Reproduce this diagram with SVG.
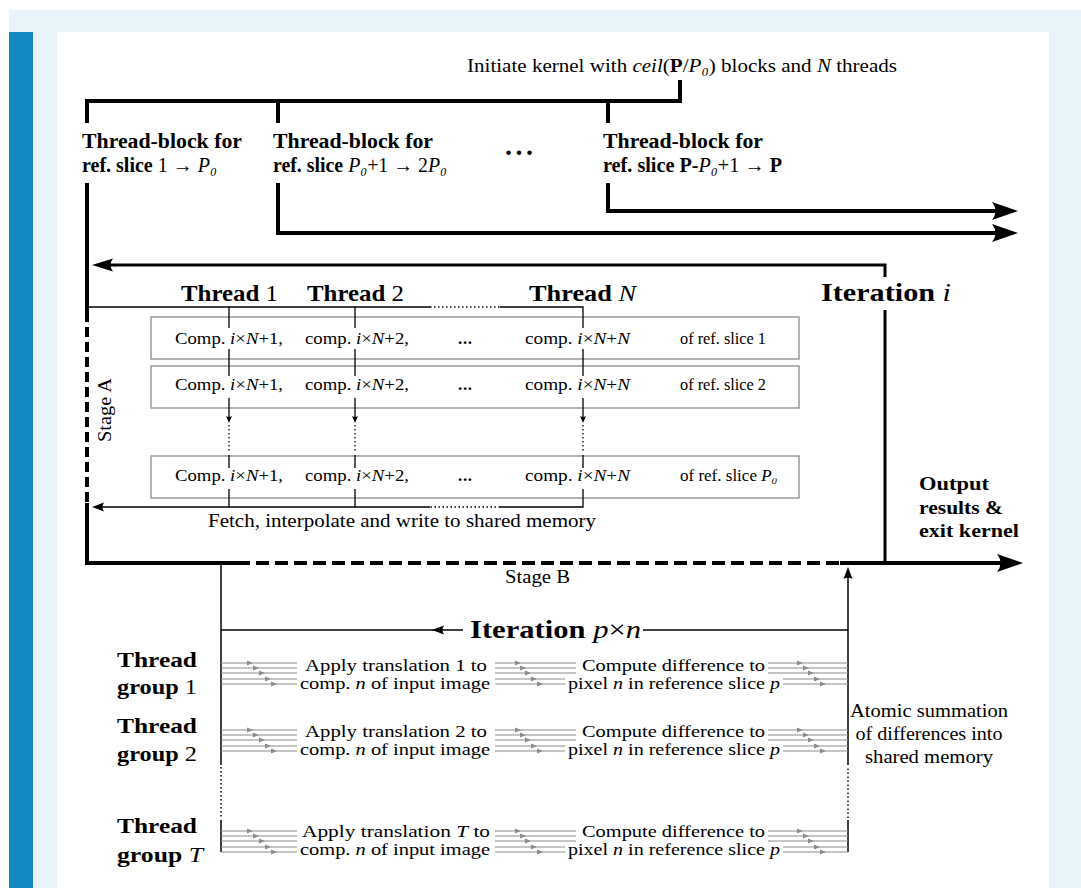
<svg xmlns="http://www.w3.org/2000/svg" xmlns:xlink="http://www.w3.org/1999/xlink" width="1081" height="888" viewBox="0 0 1081 888">
<style>
.t{font-family:"Liberation Serif","DejaVu Serif","Times New Roman",serif;fill:#000}
.b{font-weight:bold}
.i{font-style:italic;font-weight:normal}
.n{font-weight:normal}
.mb{font-weight:bold;font-style:normal}
.k{stroke:#000;fill:none;stroke-width:4;stroke-linejoin:miter}
.m3{stroke:#000;fill:none;stroke-width:3}
.th{stroke:#000;fill:none;stroke-width:1.3}
.sb{stroke:#000;fill:none;stroke-width:1.5}
.dot{stroke-dasharray:1.5 2.5}
.g{stroke:#8c8c8c;stroke-width:1.2;fill:none}
.box{fill:#fff;stroke:#9a9a9a;stroke-width:1.5}
</style>
<defs>
<marker id="aBig" viewBox="0 0 28 20" refX="16" refY="10" markerWidth="28" markerHeight="20" markerUnits="userSpaceOnUse" orient="auto"><path d="M26,10 L0,1 Q7,10 0,19 Z" fill="#000"/></marker>
<marker id="aMed" viewBox="0 0 22 14" refX="11" refY="7" markerWidth="22" markerHeight="14" markerUnits="userSpaceOnUse" orient="auto"><path d="M21,7 L0,0.5 Q5,7 0,13.5 Z" fill="#000"/></marker>
<marker id="aSm" viewBox="0 0 14 10" refX="6" refY="5" markerWidth="14" markerHeight="10" markerUnits="userSpaceOnUse" orient="auto"><path d="M12,5 L0,0.5 Q3,5 0,9.5 Z" fill="#000"/></marker>
<marker id="aTiny" viewBox="0 0 8 7" refX="3" refY="3.5" markerWidth="8" markerHeight="7" markerUnits="userSpaceOnUse" orient="auto"><path d="M7,3.5 L0,0.5 Q2,3.5 0,6.5 Z" fill="#000"/></marker>
<path id="ga" d="M0,0 L-6,-2.5 L-6,2.5 Z" fill="#8c8c8c"/>
</defs>

<g id="page">
<rect width="1081" height="888" fill="#fff"/>
<rect x="9" y="10" width="1072" height="878" fill="#e8f3fa"/>
<rect x="9" y="32" width="24" height="856" fill="#1389c1"/>
<rect x="57" y="32" width="992" height="856" fill="#fff"/>
</g>

<g id="stageA-boxes">
<rect class="box" x="151" y="317" width="648" height="42"/>
<rect class="box" x="151" y="366" width="648" height="42"/>
<rect class="box" x="151" y="456" width="648" height="42"/>
</g>

<g id="connectors">
<path class="k" d="M680,80 V101 H87 V123"/>
<path class="k" d="M278,101 V123"/>
<path class="k" d="M608,101 V123"/>
<path class="k" d="M87,183 V312"/>
<path class="k" d="M87,312 V503" stroke-dasharray="10 5"/>
<path class="k" d="M87,503 V563 H237"/>
<path class="k" d="M237,563 H840" stroke-dasharray="13 6"/>
<path class="k" d="M840,563 H1013" marker-end="url(#aBig)"/>
<path class="k" d="M278,183 V233 H1008" marker-end="url(#aBig)"/>
<path class="k" d="M608,183 V211 H1008" marker-end="url(#aBig)"/>

<path class="m3" d="M885,277 V265 H102" marker-end="url(#aMed)"/>
<path class="m3" d="M885,310 V563"/>

<path class="th" d="M87,307 H430"/>
<path class="th dot" d="M430,307 H500"/>
<path class="th" d="M500,307 H583 V328"/>
<path class="th" d="M229,307 V328 M355,307 V328"/>
<path class="th" d="M229,349 V376 M355,349 V376 M583,349 V376"/>
<path class="th" d="M229,398 V419" marker-end="url(#aTiny)"/>
<path class="th" d="M355,398 V419" marker-end="url(#aTiny)"/>
<path class="th" d="M583,398 V419" marker-end="url(#aTiny)"/>
<path class="th dot" d="M229,425 V453 M355,425 V453 M583,425 V453"/>
<path class="th" d="M229,455 V468 M355,455 V468 M583,455 V468"/>
<path class="th" d="M229,489 V507 M355,489 V507"/>
<path class="th" d="M583,489 V507 H500"/>
<path class="th dot" d="M500,507 H430"/>
<path class="th" d="M430,507 H98" marker-end="url(#aSm)"/>

<path class="sb" d="M221,565 V765"/>
<path class="sb dot" d="M221,767 V818"/>
<path class="sb" d="M221,820 V852"/>
<path class="sb" d="M221,630 H438"/>
<path class="sb" d="M463,630 H438" marker-end="url(#aSm)"/>
<path class="sb" d="M643,630 H848"/>
<path class="sb" d="M848,852 V820"/>
<path class="sb dot" d="M848,818 V767"/>
<path class="sb" d="M848,765 V573" marker-end="url(#aSm)"/>

<g id="bundles">
<path class="g" d="M221,663 H297 M221,668 H297 M221,673 H297 M221,679 H297 M221,684 H297 M495,663 H576 M495,668 H576 M495,673 H576 M495,679 H565 M495,684 H565 M768,663 H848 M768,668 H848 M768,673 H848 M783,679 H848 M783,684 H848"/>
<path class="g" d="M221,730 H297 M221,735 H297 M221,740 H297 M221,746 H297 M221,751 H297 M495,730 H576 M495,735 H576 M495,740 H576 M495,746 H565 M495,751 H565 M768,730 H848 M768,735 H848 M768,740 H848 M783,746 H848 M783,751 H848"/>
<path class="g" d="M221,831 H297 M221,836 H297 M221,841 H297 M221,847 H297 M221,852 H297 M495,831 H576 M495,836 H576 M495,841 H576 M495,847 H565 M495,852 H565 M768,831 H848 M768,836 H848 M768,841 H848 M783,847 H848 M783,852 H848"/>
<use xlink:href="#ga" x="253" y="663"/><use xlink:href="#ga" x="259" y="668"/><use xlink:href="#ga" x="265" y="673"/><use xlink:href="#ga" x="271" y="679"/><use xlink:href="#ga" x="277" y="684"/>
<use xlink:href="#ga" x="521" y="663"/><use xlink:href="#ga" x="526" y="668"/><use xlink:href="#ga" x="531" y="673"/><use xlink:href="#ga" x="537" y="679"/><use xlink:href="#ga" x="543" y="684"/>
<use xlink:href="#ga" x="803" y="663"/><use xlink:href="#ga" x="809" y="668"/><use xlink:href="#ga" x="814" y="673"/><use xlink:href="#ga" x="820" y="679"/><use xlink:href="#ga" x="826" y="684"/>
<use xlink:href="#ga" x="253" y="730"/><use xlink:href="#ga" x="259" y="735"/><use xlink:href="#ga" x="265" y="740"/><use xlink:href="#ga" x="271" y="746"/><use xlink:href="#ga" x="277" y="751"/>
<use xlink:href="#ga" x="521" y="730"/><use xlink:href="#ga" x="526" y="735"/><use xlink:href="#ga" x="531" y="740"/><use xlink:href="#ga" x="537" y="746"/><use xlink:href="#ga" x="543" y="751"/>
<use xlink:href="#ga" x="803" y="730"/><use xlink:href="#ga" x="809" y="735"/><use xlink:href="#ga" x="814" y="740"/><use xlink:href="#ga" x="820" y="746"/><use xlink:href="#ga" x="826" y="751"/>
<use xlink:href="#ga" x="253" y="831"/><use xlink:href="#ga" x="259" y="836"/><use xlink:href="#ga" x="265" y="841"/><use xlink:href="#ga" x="271" y="847"/><use xlink:href="#ga" x="277" y="852"/>
<use xlink:href="#ga" x="521" y="831"/><use xlink:href="#ga" x="526" y="836"/><use xlink:href="#ga" x="531" y="841"/><use xlink:href="#ga" x="537" y="847"/><use xlink:href="#ga" x="543" y="852"/>
<use xlink:href="#ga" x="803" y="831"/><use xlink:href="#ga" x="809" y="836"/><use xlink:href="#ga" x="814" y="841"/><use xlink:href="#ga" x="820" y="847"/><use xlink:href="#ga" x="826" y="852"/>
</g>
</g>

<g id="kernel-label">
<text class="t" x="467" y="72" font-size="18" textLength="430" lengthAdjust="spacingAndGlyphs">Initiate kernel with <tspan class="i">ceil</tspan>(<tspan class="mb">P</tspan>/<tspan class="i">P₀</tspan>) blocks and <tspan class="i">N</tspan> threads</text>
</g>

<g id="block1">
<text class="t b" font-size="20"><tspan x="82" y="148" textLength="160" lengthAdjust="spacingAndGlyphs">Thread-block for</tspan><tspan x="82" y="172">ref. slice <tspan class="n">1</tspan> → <tspan class="i">P₀</tspan></tspan></text>
</g>
<g id="block2">
<text class="t b" font-size="20"><tspan x="273" y="148" textLength="160" lengthAdjust="spacingAndGlyphs">Thread-block for</tspan><tspan x="273" y="172" textLength="174" lengthAdjust="spacingAndGlyphs">ref. slice <tspan class="i">P₀</tspan><tspan class="n">+1</tspan> → <tspan class="n">2</tspan><tspan class="i">P₀</tspan></tspan></text>
</g>
<g id="block-dots">
<text class="t b" x="505" y="155" font-size="28" textLength="28">...</text>
</g>
<g id="block3">
<text class="t b" font-size="20"><tspan x="603" y="148" textLength="160" lengthAdjust="spacingAndGlyphs">Thread-block for</tspan><tspan x="603" y="172" textLength="179" lengthAdjust="spacingAndGlyphs">ref. slice P-<tspan class="i">P₀</tspan><tspan class="n">+1</tspan> → P</tspan></text>
</g>

<g id="iteration-i">
<text class="t b" x="821" y="301" font-size="25" textLength="130" lengthAdjust="spacingAndGlyphs">Iteration <tspan class="i">i</tspan></text>
</g>

<g id="thread-headers">
<text class="t b" x="181" y="301" font-size="24" textLength="97" lengthAdjust="spacingAndGlyphs">Thread <tspan class="n">1</tspan></text>
<text class="t b" x="307" y="301" font-size="24" textLength="97" lengthAdjust="spacingAndGlyphs">Thread <tspan class="n">2</tspan></text>
<text class="t b" x="529" y="301" font-size="24" textLength="107" lengthAdjust="spacingAndGlyphs">Thread <tspan class="i">N</tspan></text>
</g>

<g id="row1">
<text class="t" x="175" y="344" font-size="17" textLength="108" lengthAdjust="spacingAndGlyphs">Comp. <tspan class="i">i</tspan>×<tspan class="i">N</tspan>+1,</text>
<text class="t" x="305" y="344" font-size="17" textLength="104" lengthAdjust="spacingAndGlyphs">comp. <tspan class="i">i</tspan>×<tspan class="i">N</tspan>+2,</text>
<text class="t b" x="458" y="344" font-size="17" textLength="14">...</text>
<text class="t" x="525" y="344" font-size="17" textLength="105" lengthAdjust="spacingAndGlyphs">comp. <tspan class="i">i</tspan>×<tspan class="i">N</tspan>+<tspan class="i">N</tspan></text>
<text class="t" x="680" y="344" font-size="17" textLength="86" lengthAdjust="spacingAndGlyphs">of ref. slice 1</text>
</g>
<g id="row2">
<text class="t" x="175" y="390" font-size="17" textLength="108" lengthAdjust="spacingAndGlyphs">Comp. <tspan class="i">i</tspan>×<tspan class="i">N</tspan>+1,</text>
<text class="t" x="305" y="390" font-size="17" textLength="104" lengthAdjust="spacingAndGlyphs">comp. <tspan class="i">i</tspan>×<tspan class="i">N</tspan>+2,</text>
<text class="t b" x="458" y="390" font-size="17" textLength="14">...</text>
<text class="t" x="525" y="390" font-size="17" textLength="105" lengthAdjust="spacingAndGlyphs">comp. <tspan class="i">i</tspan>×<tspan class="i">N</tspan>+<tspan class="i">N</tspan></text>
<text class="t" x="680" y="390" font-size="17" textLength="86" lengthAdjust="spacingAndGlyphs">of ref. slice 2</text>
</g>
<g id="row3">
<text class="t" x="175" y="481" font-size="17" textLength="108" lengthAdjust="spacingAndGlyphs">Comp. <tspan class="i">i</tspan>×<tspan class="i">N</tspan>+1,</text>
<text class="t" x="305" y="481" font-size="17" textLength="104" lengthAdjust="spacingAndGlyphs">comp. <tspan class="i">i</tspan>×<tspan class="i">N</tspan>+2,</text>
<text class="t b" x="458" y="481" font-size="17" textLength="14">...</text>
<text class="t" x="525" y="481" font-size="17" textLength="105" lengthAdjust="spacingAndGlyphs">comp. <tspan class="i">i</tspan>×<tspan class="i">N</tspan>+<tspan class="i">N</tspan></text>
<text class="t" x="680" y="481" font-size="17">of ref. slice <tspan class="i">P₀</tspan></text>
</g>

<g id="fetch-label">
<text class="t" x="208" y="527" font-size="19" textLength="388" lengthAdjust="spacingAndGlyphs">Fetch, interpolate and write to shared memory</text>
</g>
<g id="stageA-label">
<text class="t" transform="translate(111,410) rotate(-90)" text-anchor="middle" font-size="18" textLength="64" lengthAdjust="spacingAndGlyphs">Stage A</text>
</g>
<g id="stageB-label">
<text class="t" x="505" y="583" font-size="18" textLength="65" lengthAdjust="spacingAndGlyphs">Stage B</text>
</g>
<g id="output">
<text class="t b" font-size="19"><tspan x="919" y="490" textLength="70" lengthAdjust="spacingAndGlyphs">Output</tspan><tspan x="919" y="514" textLength="84" lengthAdjust="spacingAndGlyphs">results &amp;</tspan><tspan x="919" y="537" textLength="100" lengthAdjust="spacingAndGlyphs">exit kernel</tspan></text>
</g>

<g id="iteration-pn">
<text class="t b" x="470" y="638" font-size="26" textLength="171" lengthAdjust="spacingAndGlyphs">Iteration <tspan class="i">p</tspan><tspan class="n">×</tspan><tspan class="i">n</tspan></text>
</g>

<g id="group1">
<text class="t b" font-size="22"><tspan x="117" y="667" textLength="80" lengthAdjust="spacingAndGlyphs">Thread</tspan><tspan x="117" y="694" textLength="80" lengthAdjust="spacingAndGlyphs">group <tspan class="n">1</tspan></tspan></text>
<text class="t" font-size="16"><tspan x="305" y="671" textLength="182" lengthAdjust="spacingAndGlyphs">Apply translation 1 to</tspan><tspan x="300" y="689" textLength="190" lengthAdjust="spacingAndGlyphs">comp. <tspan class="i">n</tspan> of input image</tspan></text>
<text class="t" font-size="16"><tspan x="582" y="671" textLength="183" lengthAdjust="spacingAndGlyphs">Compute difference to</tspan><tspan x="568" y="689" textLength="212" lengthAdjust="spacingAndGlyphs">pixel <tspan class="i">n</tspan> in reference slice <tspan class="i">p</tspan></tspan></text>
</g>
<g id="group2">
<text class="t b" font-size="22"><tspan x="117" y="733" textLength="80" lengthAdjust="spacingAndGlyphs">Thread</tspan><tspan x="117" y="761" textLength="80" lengthAdjust="spacingAndGlyphs">group <tspan class="n">2</tspan></tspan></text>
<text class="t" font-size="16"><tspan x="305" y="737" textLength="182" lengthAdjust="spacingAndGlyphs">Apply translation 2 to</tspan><tspan x="300" y="755" textLength="190" lengthAdjust="spacingAndGlyphs">comp. <tspan class="i">n</tspan> of input image</tspan></text>
<text class="t" font-size="16"><tspan x="582" y="737" textLength="183" lengthAdjust="spacingAndGlyphs">Compute difference to</tspan><tspan x="568" y="755" textLength="212" lengthAdjust="spacingAndGlyphs">pixel <tspan class="i">n</tspan> in reference slice <tspan class="i">p</tspan></tspan></text>
</g>
<g id="groupT">
<text class="t b" font-size="22"><tspan x="117" y="833" textLength="80" lengthAdjust="spacingAndGlyphs">Thread</tspan><tspan x="117" y="862" textLength="86" lengthAdjust="spacingAndGlyphs">group <tspan class="i">T</tspan></tspan></text>
<text class="t" font-size="16"><tspan x="302" y="837" textLength="188" lengthAdjust="spacingAndGlyphs">Apply translation <tspan class="i">T</tspan> to</tspan><tspan x="300" y="855" textLength="190" lengthAdjust="spacingAndGlyphs">comp. <tspan class="i">n</tspan> of input image</tspan></text>
<text class="t" font-size="16"><tspan x="582" y="837" textLength="183" lengthAdjust="spacingAndGlyphs">Compute difference to</tspan><tspan x="568" y="855" textLength="212" lengthAdjust="spacingAndGlyphs">pixel <tspan class="i">n</tspan> in reference slice <tspan class="i">p</tspan></tspan></text>
</g>

<g id="atomic">
<text class="t" font-size="18" text-anchor="middle"><tspan x="929" y="717" textLength="158" lengthAdjust="spacingAndGlyphs">Atomic summation</tspan><tspan x="929" y="740" textLength="147" lengthAdjust="spacingAndGlyphs">of differences into</tspan><tspan x="929" y="763" textLength="128" lengthAdjust="spacingAndGlyphs">shared memory</tspan></text>
</g>
</svg>
